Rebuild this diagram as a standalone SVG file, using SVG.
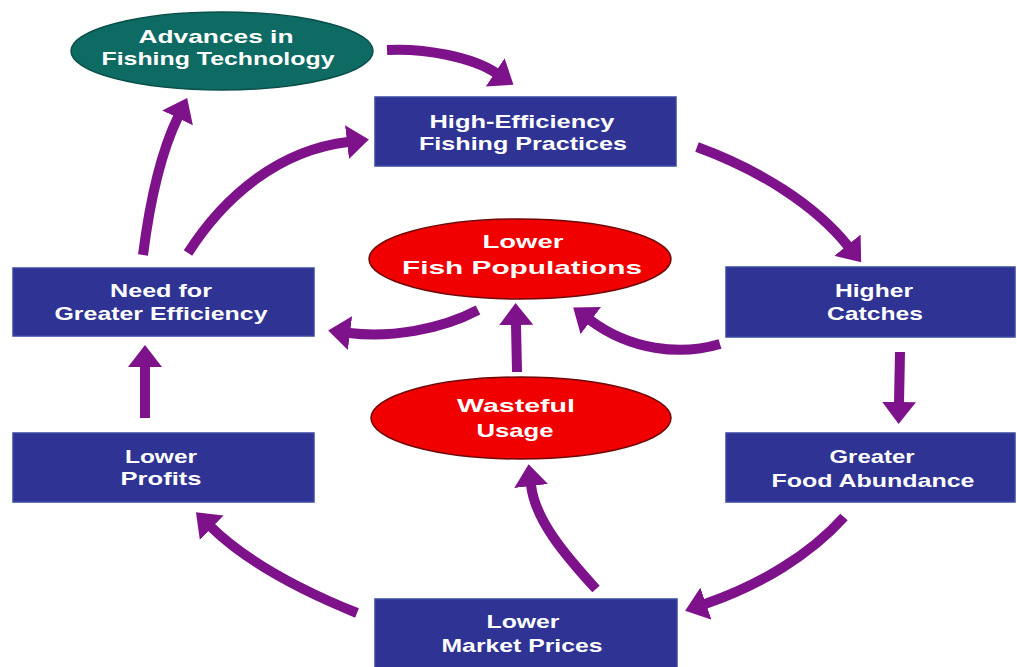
<svg xmlns="http://www.w3.org/2000/svg" width="1017" height="667" viewBox="0 0 1017 667">
  <style>
    .box { fill: #2e3394; stroke: #3a48a0; stroke-width: 1.5; }
    .red { fill: #f00000; stroke: #6e0a0a; stroke-width: 1.5; }
    .teal { fill: #0e6b64; stroke: #0a4f4a; stroke-width: 1.5; }
    .t { font-family: "Liberation Sans", Arial, sans-serif; font-weight: bold; font-size: 19px; fill: #ffffff; text-anchor: middle; }
    .tr { font-family: "Liberation Sans", Arial, sans-serif; font-weight: bold; font-size: 19px; fill: #ffffff; text-anchor: middle; }
    .arr { fill: none; stroke: #7d128a; stroke-width: 10; stroke-linecap: butt; marker-end: url(#head); }
  </style>
  <defs>
    <marker id="head" markerUnits="userSpaceOnUse" viewBox="0 0 22 34" markerWidth="22" markerHeight="34" refX="1" refY="17" orient="auto">
      <path d="M0,0 L22,17 L0,34 Z" fill="#7d128a"/>
    </marker>
  </defs>

  <rect x="0" y="0" width="1017" height="667" fill="#ffffff"/>

  <g id="connectors">
    <path class="arr" d="M387,50 C425,48 472,57 496,73"/>
    <path class="arr" d="M697,147 C760,170 815,205 848,246"/>
    <path class="arr" d="M900,352 L899,403"/>
    <path class="arr" d="M844,517 C810,555 760,585 705,604"/>
    <path class="arr" d="M596,589 C565,555 535,520 531,485"/>
    <path class="arr" d="M357,613 C300,590 245,560 211,527"/>
    <path class="arr" d="M145,418 L145,366"/>
    <path class="arr" d="M143,255 C150,200 162,150 178,117"/>
    <path class="arr" d="M188,253 C225,195 280,150 348,142"/>
    <path class="arr" d="M478,310 C440,330 390,338 349,333"/>
    <path class="arr" d="M517,372 L516,324"/>
    <path class="arr" d="M720,344 C680,356 630,350 590,320"/>
  </g>

  <g id="advances">
    <ellipse class="teal" cx="222" cy="51" rx="151" ry="39"/>
    <text class="t" x="216" y="43" font-size="20" textLength="155" lengthAdjust="spacingAndGlyphs">Advances in</text>
    <text class="t" x="218" y="65" font-size="20" textLength="233" lengthAdjust="spacingAndGlyphs">Fishing Technology</text>
  </g>

  <g id="high-efficiency">
    <rect class="box" x="375" y="97" width="301" height="69"/>
    <text class="t" x="522" y="128" textLength="185" lengthAdjust="spacingAndGlyphs">High-Efficiency</text>
    <text class="t" x="523" y="150" textLength="208" lengthAdjust="spacingAndGlyphs">Fishing Practices</text>
  </g>

  <g id="higher-catches">
    <rect class="box" x="726" y="267" width="289" height="70"/>
    <text class="t" x="874" y="297" textLength="78" lengthAdjust="spacingAndGlyphs">Higher</text>
    <text class="t" x="875" y="320" textLength="96" lengthAdjust="spacingAndGlyphs">Catches</text>
  </g>

  <g id="greater-food">
    <rect class="box" x="726" y="433" width="289" height="69"/>
    <text class="t" x="872" y="463" textLength="85" lengthAdjust="spacingAndGlyphs">Greater</text>
    <text class="t" x="873" y="487" textLength="203" lengthAdjust="spacingAndGlyphs">Food Abundance</text>
  </g>

  <g id="lower-market">
    <rect class="box" x="375" y="599" width="302" height="70"/>
    <text class="t" x="523" y="628" textLength="73" lengthAdjust="spacingAndGlyphs">Lower</text>
    <text class="t" x="522" y="652" textLength="161" lengthAdjust="spacingAndGlyphs">Market Prices</text>
  </g>

  <g id="lower-profits">
    <rect class="box" x="13" y="433" width="301" height="69"/>
    <text class="t" x="161" y="463" textLength="72" lengthAdjust="spacingAndGlyphs">Lower</text>
    <text class="t" x="161" y="485" textLength="81" lengthAdjust="spacingAndGlyphs">Profits</text>
  </g>

  <g id="need-efficiency">
    <rect class="box" x="13" y="268" width="301" height="68"/>
    <text class="t" x="161" y="297" textLength="102" lengthAdjust="spacingAndGlyphs">Need for</text>
    <text class="t" x="161" y="320" textLength="213" lengthAdjust="spacingAndGlyphs">Greater Efficiency</text>
  </g>

  <g id="lower-fish">
    <ellipse class="red" cx="520" cy="259" rx="151" ry="40"/>
    <text class="tr" x="523" y="248" textLength="81" lengthAdjust="spacingAndGlyphs">Lower</text>
    <text class="tr" x="522" y="274" textLength="240" lengthAdjust="spacingAndGlyphs">Fish Populations</text>
  </g>

  <g id="wasteful">
    <ellipse class="red" cx="521" cy="418" rx="150" ry="41"/>
    <text class="tr" x="516" y="412" textLength="118" lengthAdjust="spacingAndGlyphs">Wasteful</text>
    <text class="tr" x="515" y="437" textLength="77" lengthAdjust="spacingAndGlyphs">Usage</text>
  </g>
</svg>
